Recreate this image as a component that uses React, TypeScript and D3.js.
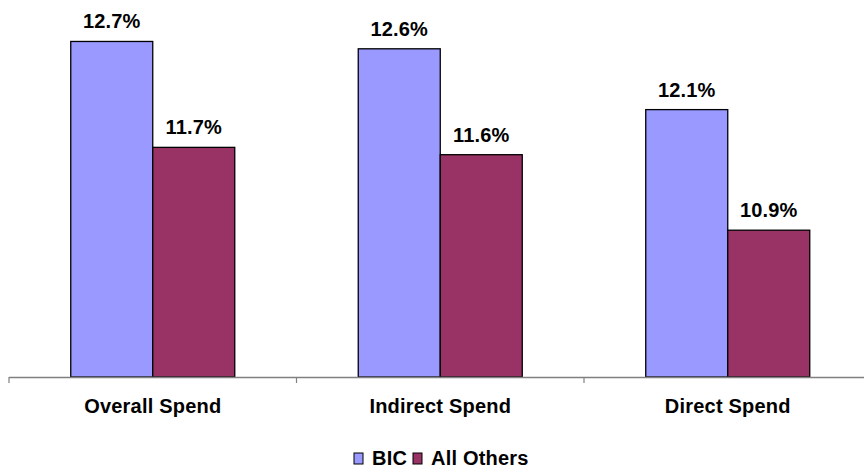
import React from "react";
import * as d3 from "d3";

const categories = ["Overall Spend", "Indirect Spend", "Direct Spend"];
const seriesNames = ["BIC", "All Others"];
const bicValues = [12.7, 12.63, 12.05];
const othersValues = [11.69, 11.62, 10.9];
const valueLabels = [["12.7%", "11.7%"], ["12.6%", "11.6%"], ["12.1%", "10.9%"]];
const colors = ["#9999FF", "#993366"];

const W = 864;
const H = 468;
const FONT = "'Liberation Sans', Arial, sans-serif";

export default function App() {
  const x = d3.scaleBand<string>().domain(categories).range([9, 871.5]).paddingInner(0).paddingOuter(0);
  const xi = d3.scaleBand<string>().domain(seriesNames).range([0, x.bandwidth()]).paddingInner(0).paddingOuter(0.753);
  const y = d3.scaleLinear().domain([9.5, 13]).range([377, 10]);
  const baseY = y(9.5);
  const series = [bicValues, othersValues];
  const ticks = [...categories.map((c) => x(c) as number), 871.5];

  return (
    <svg width={W} height={H} style={{ position: "absolute", left: 0, top: 0, background: "#fff" }}>
      {categories.map((c, ci) =>
        series.map((vals, si) => {
          const bx = (x(c) as number) + (xi(seriesNames[si]) as number);
          const by = y(vals[ci]);
          return (
            <g key={c + si}>
              <rect x={bx} y={by} width={xi.bandwidth()} height={baseY - by} fill={colors[si]} stroke="#000" strokeWidth={1.3} />
              <text x={bx + xi.bandwidth() / 2} y={by - 13} textAnchor="middle" fontFamily={FONT} fontWeight="bold" fontSize={20} letterSpacing={0.2} fill="#000">
                {valueLabels[ci][si]}
              </text>
            </g>
          );
        })
      )}
      <line x1={9} x2={871.5} y1={baseY + 0.5} y2={baseY + 0.5} stroke="#808080" strokeWidth={1.5} />
      {ticks.map((t, i) => (
        <line key={i} x1={t} x2={t} y1={baseY} y2={baseY + 6} stroke="#808080" strokeWidth={1.2} />
      ))}
      {categories.map((c) => (
        <text key={c} x={(x(c) as number) + x.bandwidth() / 2} y={413} textAnchor="middle" fontFamily={FONT} fontWeight="bold" fontSize={20} letterSpacing={0.2} fill="#000">
          {c}
        </text>
      ))}
      <g>
        <rect x={354} y={453} width={9} height={11} fill={colors[0]} stroke="#000" strokeWidth={1} />
        <text x={372} y={465} fontFamily={FONT} fontWeight="bold" fontSize={20} letterSpacing={0.2} fill="#000">{seriesNames[0]}</text>
        <rect x={413} y={453} width={9} height={11} fill={colors[1]} stroke="#000" strokeWidth={1} />
        <text x={431} y={465} fontFamily={FONT} fontWeight="bold" fontSize={20} letterSpacing={0.2} fill="#000">{seriesNames[1]}</text>
      </g>
    </svg>
  );
}
